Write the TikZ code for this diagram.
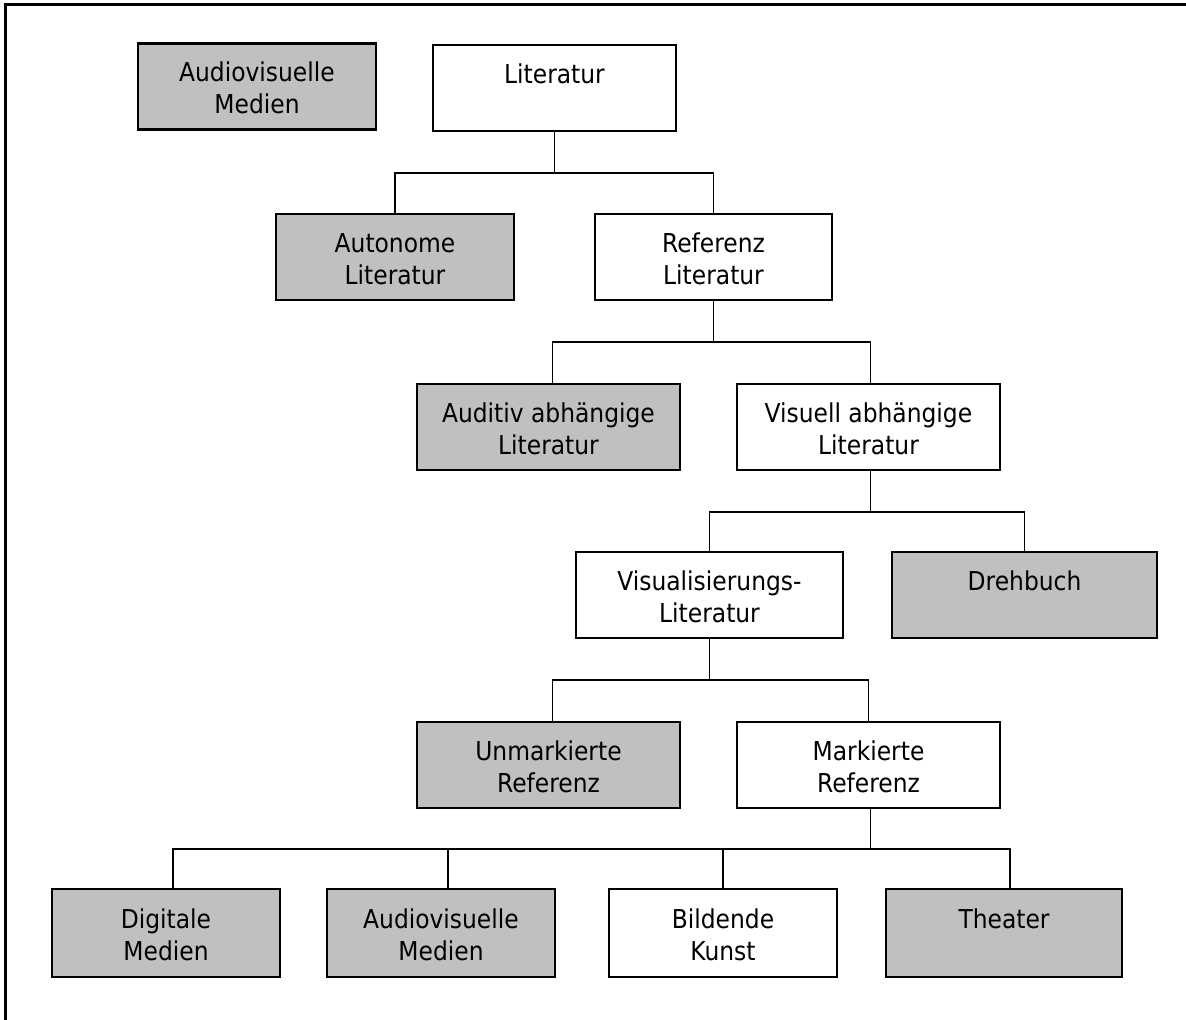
\documentclass[tikz,border=0pt]{standalone}
\usepackage{fontspec}
\setmainfont{DejaVu Sans Condensed}

\definecolor{boxgray}{RGB}{192,192,192}
\newcommand{\topstrut}{\rule{0pt}{16pt}}

\tikzset{
  box/.style={draw, line width=1.2pt, inner sep=0pt, align=center,
    minimum height=43pt, font=\fontsize{13}{16}\selectfont},
  greybox/.style={box, fill=boxgray},
  whitebox/.style={box, fill=white},
  link/.style={line width=0.8pt},
}

\begin{document}
\begin{tikzpicture}[x=0.5pt,y=-0.5pt]
  \useasboundingbox (0,0) rectangle (1186,1020);

  %% ---- frame (top and left edge) ----
  \draw[line width=1.5pt] (5,1020) -- (5,5) -- (1186,5);

  %% ---- level 0 ----
  \node[greybox,minimum width=119pt] (avtop) at (257,86.5) {\topstrut Audiovisuelle\\Medien\strut};
  \node[whitebox,minimum width=121.5pt] (lit) at (554.5,88) {\topstrut Literatur\\\strut};

  %% ---- level 1 ----
  \node[greybox,minimum width=119pt] (auto) at (395,257) {\topstrut Autonome\\Literatur\strut};
  \node[whitebox,minimum width=118.5pt] (ref) at (713.5,257) {\topstrut Referenz\\Literatur\strut};

  %% ---- level 2 ----
  \node[greybox,minimum width=131.5pt] (aud) at (548.5,427) {\topstrut Auditiv abhängige\\Literatur\strut};
  \node[whitebox,minimum width=131.5pt] (vis) at (868.5,427) {\topstrut Visuell abhängige\\Literatur\strut};

  %% ---- level 3 ----
  \node[whitebox,minimum width=133.5pt] (vlit) at (709.5,595) {\topstrut Visualisierungs-\\Literatur\strut};
  \node[greybox,minimum width=132.5pt] (dreh) at (1024.5,595) {\topstrut Drehbuch\\\strut};

  %% ---- level 4 ----
  \node[greybox,minimum width=131.5pt] (unm) at (548.5,765) {\topstrut Unmarkierte\\Referenz\strut};
  \node[whitebox,minimum width=131.5pt] (mark) at (868.5,765) {\topstrut Markierte\\Referenz\strut};

  %% ---- level 5 ----
  \node[greybox,minimum width=114pt,minimum height=44pt] (dig) at (166,933) {\topstrut Digitale\\Medien\strut};
  \node[greybox,minimum width=114pt,minimum height=44pt] (avbot) at (441,933) {\topstrut Audiovisuelle\\Medien\strut};
  \node[whitebox,minimum width=114pt,minimum height=44pt] (bild) at (723,933) {\topstrut Bildende\\Kunst\strut};
  \node[greybox,minimum width=118pt,minimum height=44pt] (thea) at (1004,933) {\topstrut Theater\\\strut};

  %% ---- junction heights ----
  \coordinate (j1) at (0,173);
  \coordinate (j2) at (0,342);
  \coordinate (j3) at (0,512);
  \coordinate (j4) at (0,680);
  \coordinate (j5) at (0,849);

  %% ---- connectors ----
  \draw[link] (lit.south) -- (lit.south |- j1);
  \draw[link] (auto.north) |- (ref.north |- j1) -- (ref.north);

  \draw[link] (ref.south) -- (ref.south |- j2);
  \draw[link] ([xshift=2pt]aud.north) |- ([xshift=1pt]vis.north |- j2) -- ([xshift=1pt]vis.north);

  \draw[link] ([xshift=1pt]vis.south) -- ([xshift=1pt]vis.south |- j3);
  \draw[link] (vlit.north) |- (dreh.north |- j3) -- (dreh.north);

  \draw[link] (vlit.south) -- (vlit.south |- j4);
  \draw[link] ([xshift=2pt]unm.north) |- (mark.north |- j4) -- (mark.north);

  \draw[link] ([xshift=1pt]mark.south) -- ([xshift=1pt]mark.south |- j5);
  \draw[link] ([xshift=3.5pt]dig.north) |- ([xshift=3pt]thea.north |- j5) -- ([xshift=3pt]thea.north);
  \draw[link] ([xshift=3.5pt]avbot.north) -- ([xshift=3.5pt]avbot.north |- j5);
  \draw[link] (bild.north) -- (bild.north |- j5);

\end{tikzpicture}
\end{document}
